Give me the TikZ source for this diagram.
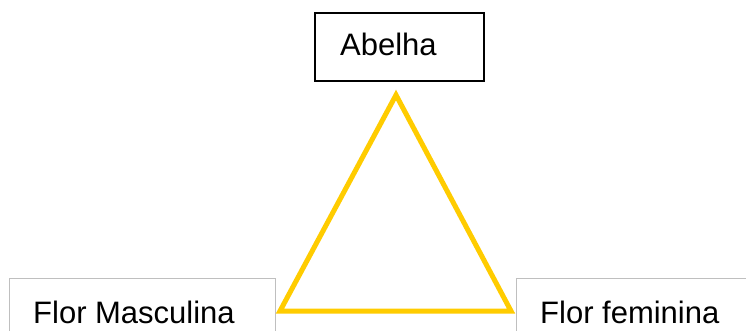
\documentclass[tikz,border=0pt]{standalone}
\usepackage{fontspec}
\setmainfont{Liberation Sans}
\definecolor{boxgray}{HTML}{BFBFBF}
\definecolor{beegold}{HTML}{FFCC00}
\tikzset{
  label text/.style={anchor=base west, inner sep=0pt, font=\fontsize{31}{37}\selectfont},
}
\begin{document}
\begin{tikzpicture}[x=1pt,y=-1pt]
    \useasboundingbox (0,0) rectangle (746,330);
    \clip (0,0) rectangle (746,330);
    \fill[white] (0,0) rectangle (746,330);
    % abelha
    \draw[line width=1.5pt] (315,13) rectangle (484,81);
    \node[label text] (abelha) at (340,55) {Abelha};
    % flores
    \draw[boxgray, line width=1pt] (9,278) rectangle (275,350);
    \node[label text] (masc) at (33,323) {Flor Masculina};
    \draw[boxgray, line width=1pt] (516,278) rectangle (760,350);
    \node[label text] (fem) at (540,323) {Flor feminina};
    % triangulo
    \coordinate (topo) at (396,95);
    \coordinate (esq) at (280,311);
    \coordinate (dir) at (511,311);
    \draw[beegold, line width=5pt, miter limit=4] (topo) -- (esq) -- (dir) -- cycle;
\end{tikzpicture}
\end{document}
